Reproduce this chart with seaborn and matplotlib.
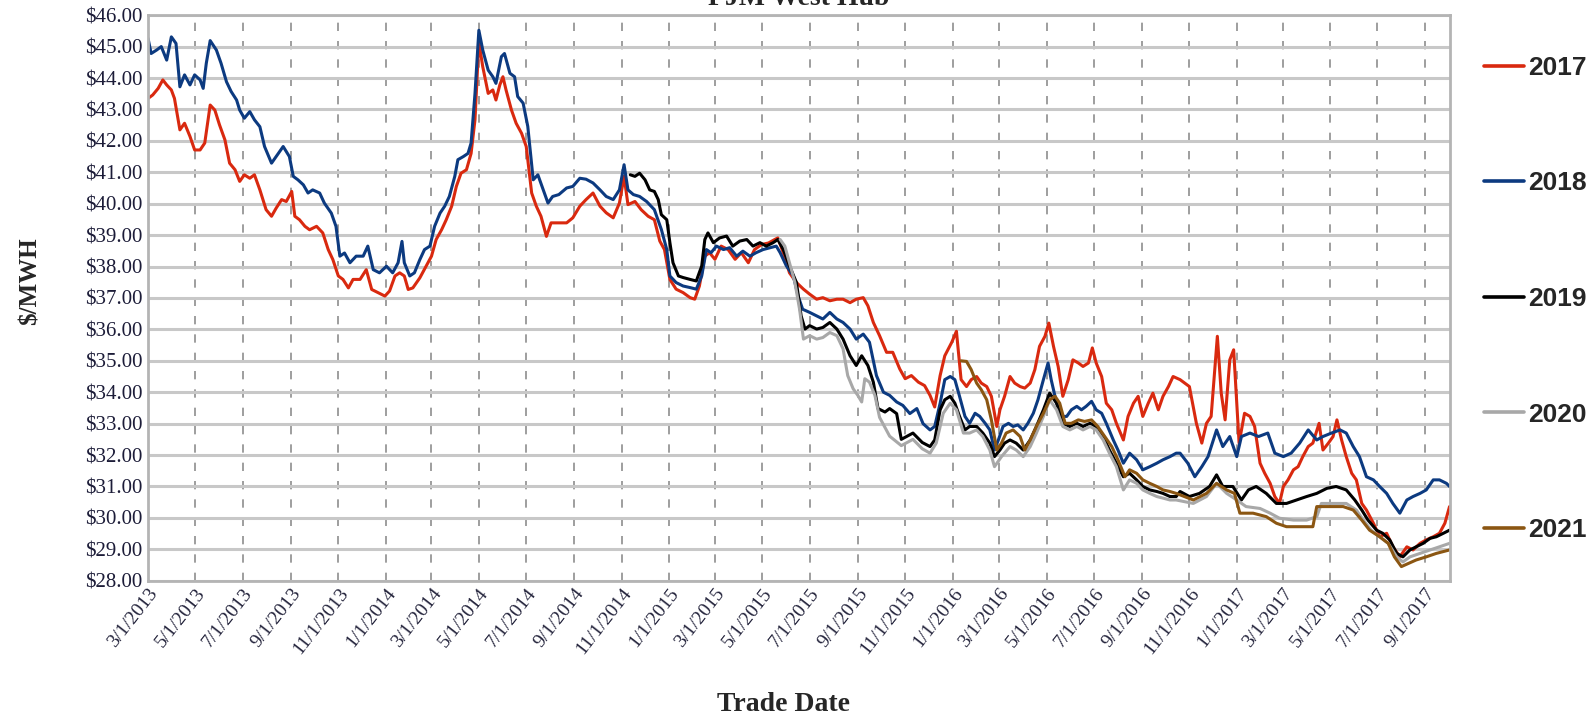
import numpy as np
import pandas as pd
import matplotlib
matplotlib.use('Agg')
import matplotlib.pyplot as plt
import seaborn as sns

# Forward price strips by calendar year
start = pd.Timestamp('2013-03-01')

days_2017 = [0, 6, 13, 19, 24, 30, 34, 41, 47, 54,
             60, 67, 73, 80, 86, 92, 99, 105, 112, 118,
             124, 131, 137, 144, 152, 159, 165, 172, 178, 185,
             189, 195, 202, 208, 217, 225, 232, 238, 245, 251,
             258, 264, 273, 281, 288, 296, 305, 311, 318, 324,
             330, 335, 341, 350, 358, 365, 371, 378, 384, 391,
             397, 403, 410, 416, 421, 426, 431, 438, 444, 448,
             453, 457, 461, 468, 474, 481, 487, 494, 500, 506,
             513, 519, 529,
             539, 547, 556, 564, 573, 582, 590, 599, 607, 613,
             618, 627, 635, 644, 652, 659, 665, 672, 680, 689,
             698, 704, 710, 717, 723, 730, 738, 747, 756, 764,
             773, 781, 790, 799, 807, 811, 818, 826, 835, 844,
             852, 861, 869, 878, 887, 895, 904, 912, 921, 927,
             934, 942, 951, 959, 968, 975, 983, 992, 1000, 1007,
             1013, 1020, 1026, 1035, 1041,
             1047, 1054, 1060, 1067, 1073, 1080, 1086, 1093, 1097, 1103,
             1110, 1116, 1123, 1129, 1136, 1142, 1148, 1155, 1160, 1166,
             1172, 1178, 1185, 1191, 1198, 1204, 1211, 1216, 1221, 1228,
             1234, 1241, 1247, 1256, 1262, 1269, 1275, 1281, 1288, 1294,
             1301, 1307, 1314, 1320, 1329,
             1341, 1350, 1357, 1363, 1369, 1377, 1382, 1387, 1393, 1398,
             1405, 1412, 1419, 1425, 1432, 1438, 1445, 1451, 1457, 1462,
             1468, 1475, 1481, 1487, 1494, 1500, 1508, 1513, 1520, 1526,
             1531, 1537, 1543, 1550, 1556, 1563, 1569, 1578, 1586, 1595,
             1603, 1612, 1621, 1629, 1638, 1646, 1655, 1663, 1670, 1676]
price_2017 = [43.35, 43.46, 43.67, 43.94, 43.78, 43.62, 43.35, 42.35, 42.56, 42.14,
              41.71, 41.71, 41.93, 43.14, 42.98, 42.51, 42.03, 41.29, 41.08, 40.71,
              40.92, 40.81, 40.92, 40.44, 39.81, 39.6, 39.86, 40.13, 40.07, 40.39,
              39.6, 39.49, 39.28, 39.17, 39.28, 39.07, 38.54, 38.22, 37.7, 37.59,
              37.32, 37.59, 37.59, 37.9, 37.27, 37.17, 37.06, 37.22, 37.7, 37.8,
              37.7, 37.27, 37.32, 37.64, 38.01, 38.33, 38.86, 39.17, 39.49, 39.92,
              40.55, 40.97, 41.08, 41.6, 42.67, 45.15, 44.36, 43.51, 43.62, 43.3,
              43.78, 44.04, 43.62, 42.98, 42.56, 42.24, 41.82, 40.34, 39.92, 39.6,
              38.96, 39.39, 39.39,
              39.39, 39.55, 39.92, 40.13, 40.34, 39.92, 39.71, 39.55, 40.02, 40.87,
              39.97, 40.07, 39.81, 39.6, 39.49, 38.81, 38.54, 37.59, 37.28, 37.17,
              37.01, 36.96, 37.38, 38.33, 38.44, 38.23, 38.65, 38.54, 38.23, 38.44,
              38.12, 38.54, 38.7, 38.75, 38.86, 38.91, 38.44, 37.8, 37.49, 37.28,
              37.12, 36.96, 37.01, 36.91, 36.96, 36.96, 36.85, 36.96, 37.01, 36.75,
              36.22, 35.8, 35.27, 35.27, 34.74, 34.43, 34.53, 34.32, 34.21, 33.9,
              33.53, 34.53, 35.16, 35.59, 35.94,
              34.4, 34.18, 34.4, 34.5, 34.29, 34.18, 33.87, 32.91, 33.44, 33.87,
              34.5, 34.29, 34.18, 34.13, 34.29, 34.72, 35.46, 35.78, 36.2, 35.46,
              34.82, 33.87, 34.4, 35.03, 34.93, 34.82, 34.93, 35.41, 34.93, 34.5,
              33.65, 33.44, 33.01, 32.48, 33.23, 33.65, 33.87, 33.23, 33.65, 33.97,
              33.44, 33.87, 34.18, 34.5, 34.4,
              34.18, 33.01, 32.38, 33.01, 33.23, 35.78, 33.97, 33.12, 35.03, 35.35,
              32.38, 33.33, 33.23, 32.91, 31.74, 31.42, 31.1, 30.68, 30.46, 31.0,
              31.21, 31.53, 31.63, 31.95, 32.27, 32.38, 33.01, 32.16, 32.38, 32.59,
              33.12, 32.48, 31.95, 31.42, 31.21, 30.46, 30.25, 29.83, 29.4, 29.51,
              29.08, 28.76, 29.08, 28.98, 29.19, 29.3, 29.4, 29.51, 29.83, 30.36]

days_2018 = [0, 4, 11, 17, 24, 30, 36, 41, 47, 54,
             60, 67, 71, 75, 80, 88, 94, 101, 107, 114,
             118, 124, 131, 137, 144, 150, 159, 165, 174, 182,
             187, 193, 200, 206, 212, 221, 227, 236, 242, 247,
             253, 260, 268, 277, 283, 290, 298, 307, 315, 322,
             327, 330, 337, 343, 350, 356, 363, 369, 376, 382,
             388, 395, 399, 406, 412, 416, 421, 426, 431, 438,
             444, 448, 455, 459, 466, 472, 476, 483, 489, 496,
             502, 509, 515, 521, 529,
             539, 547, 556, 564, 573, 582, 590, 599, 607, 613,
             618, 625, 633, 642, 652, 661, 668, 672, 680, 689,
             698, 706, 713, 719, 725, 732, 741, 749, 758, 766,
             775, 783, 792, 801, 809, 814, 822, 831, 837, 843,
             852, 861, 869, 878, 887, 895, 904, 912, 921, 929,
             938, 947, 955, 964, 972, 981, 990, 998,
             1007, 1013, 1020, 1026, 1033, 1039, 1045, 1052, 1058, 1065,
             1071, 1078, 1084, 1090, 1095, 1101, 1108, 1114, 1120, 1127,
             1133, 1140, 1146, 1153, 1159, 1163, 1170, 1176, 1183, 1189,
             1196, 1202, 1208, 1215, 1221, 1228, 1234, 1243, 1249, 1256,
             1264, 1273, 1281, 1290, 1299, 1307, 1316, 1324,
             1329, 1339, 1348, 1357, 1365, 1376, 1384, 1393, 1402, 1408,
             1419, 1430, 1442, 1451, 1462, 1472, 1483, 1494, 1505, 1513,
             1524, 1535, 1543, 1552, 1560, 1569, 1578, 1586, 1595, 1603,
             1612, 1621, 1629, 1638, 1646, 1655, 1663, 1672, 1676]
price_2018 = [45.26, 44.78, 44.89, 45.0, 44.57, 45.31, 45.1, 43.72, 44.1, 43.78,
              44.1, 43.94, 43.67, 44.47, 45.19, 44.89, 44.47, 43.88, 43.57, 43.3,
              42.98, 42.72, 42.93, 42.67, 42.45, 41.82, 41.29, 41.5, 41.82, 41.5,
              40.87, 40.76, 40.6, 40.34, 40.44, 40.34, 40.02, 39.7, 39.28, 38.33,
              38.43, 38.12, 38.33, 38.33, 38.65, 37.9, 37.8, 38.01, 37.8, 38.12,
              38.8, 38.12, 37.7, 37.8, 38.22, 38.54, 38.65, 39.28, 39.7, 39.92,
              40.23, 40.87, 41.4, 41.5, 41.6, 41.93, 43.5, 45.52, 44.89, 44.25,
              44.04, 43.83, 44.68, 44.78, 44.15, 44.04, 43.41, 43.2, 42.46, 40.76,
              40.92, 40.44, 40.02, 40.23, 40.29,
              40.5, 40.55, 40.81, 40.78, 40.66, 40.44, 40.23, 40.13, 40.44, 41.24,
              40.44, 40.29, 40.23, 40.07, 39.81, 39.18, 38.54, 37.7, 37.49, 37.38,
              37.33, 37.28, 37.7, 38.54, 38.44, 38.65, 38.54, 38.6, 38.33, 38.49,
              38.33, 38.44, 38.54, 38.6, 38.65, 38.44, 38.02, 37.7, 37.07, 36.64,
              36.54, 36.43, 36.33, 36.54, 36.33, 36.22, 36.01, 35.69, 35.85, 35.59,
              34.53, 34.0, 33.9, 33.69, 33.58, 33.32, 33.48, 33.0,
              32.8, 32.91, 33.65, 34.4, 34.5, 34.4, 33.87, 33.23, 33.01, 33.33,
              33.23, 33.01, 32.8, 32.16, 32.48, 32.91, 33.01, 32.91, 32.96, 32.8,
              33.01, 33.33, 33.76, 34.4, 34.93, 34.4, 33.65, 33.23, 33.23, 33.44,
              33.55, 33.44, 33.55, 33.71, 33.44, 33.33, 33.01, 32.48, 32.16, 31.74,
              32.06, 31.85, 31.53, 31.63, 31.74, 31.85, 31.95, 32.06,
              32.06, 31.74, 31.31, 31.63, 31.95, 32.8, 32.27, 32.59, 31.95, 32.59,
              32.7, 32.59, 32.7, 32.06, 31.95, 32.06, 32.38, 32.8, 32.48, 32.59,
              32.7, 32.8, 32.7, 32.27, 31.95, 31.31, 31.21, 31.0, 30.78, 30.46,
              30.15, 30.57, 30.68, 30.78, 30.89, 31.21, 31.21, 31.1, 31.0]

days_2019 = [621, 627, 633, 640, 646, 652, 657, 661, 668, 672,
             676, 683, 689, 698, 706, 713, 717, 721, 728, 736,
             745, 753, 762, 771, 779, 788, 796, 805, 811, 818,
             826, 835, 841, 846, 852, 861, 869, 878, 887, 895,
             904, 912, 919, 927, 934, 940, 949, 955, 964, 970,
             985, 997,
             1007, 1013, 1020, 1026, 1033, 1039, 1045, 1052, 1058, 1067,
             1075, 1084, 1090, 1097, 1103, 1110, 1118, 1127, 1136, 1144,
             1153, 1161, 1170, 1178, 1187, 1196, 1204, 1213, 1221, 1230,
             1238, 1247, 1256, 1264, 1273, 1281, 1290, 1299, 1307, 1316,
             1324,
             1329, 1341, 1354, 1367, 1376, 1384, 1397, 1408, 1417, 1427,
             1440, 1453, 1466, 1479, 1492, 1505, 1518, 1530, 1543, 1554,
             1563, 1571, 1582, 1590, 1599, 1608, 1616, 1625, 1633, 1642,
             1651, 1659, 1668, 1676]
price_2019 = [40.92, 40.87, 40.97, 40.76, 40.44, 40.39, 40.13, 39.65, 39.49, 38.76,
              38.12, 37.7, 37.65, 37.59, 37.54, 38.02, 38.86, 39.07, 38.76, 38.91,
              38.97, 38.65, 38.81, 38.86, 38.65, 38.76, 38.65, 38.76, 38.86, 38.54,
              38.02, 37.49, 36.43, 36.01, 36.12, 36.01, 36.06, 36.22, 36.01, 35.69,
              35.16, 34.85, 35.16, 34.85, 34.32, 33.48, 33.37, 33.48, 33.32, 32.5,
              32.7, 32.4,
              32.27, 32.48, 33.44, 33.76, 33.87, 33.65, 33.23, 32.8, 32.91, 32.91,
              32.7, 32.38, 31.95, 32.16, 32.38, 32.48, 32.38, 32.16, 32.48, 32.91,
              33.44, 33.97, 33.65, 33.01, 32.91, 33.01, 32.91, 33.01, 32.91, 32.59,
              32.16, 31.74, 31.31, 31.42, 31.21, 31.0, 30.89, 30.84, 30.78, 30.68,
              30.68,
              30.84, 30.68, 30.78, 31.0, 31.37, 31.0, 31.0, 30.57, 30.89, 31.0,
              30.78, 30.46, 30.46, 30.57, 30.68, 30.78, 30.94, 31.0, 30.89, 30.57,
              30.25, 29.93, 29.61, 29.51, 29.3, 28.87, 28.76, 28.98, 29.08, 29.19,
              29.35, 29.4, 29.51, 29.61]

days_2020 = [814, 820, 826, 833, 839, 844, 852, 861, 869, 878,
             887, 895, 901, 908, 914, 919, 923, 929, 936, 942,
             955, 970, 985, 997,
             1007, 1015, 1024, 1033, 1041, 1050, 1058, 1067, 1075, 1084,
             1090, 1099, 1110, 1118, 1127, 1136, 1144, 1153, 1161, 1170,
             1178, 1187, 1196, 1204, 1213, 1221, 1230, 1238, 1247, 1256,
             1264, 1273, 1281, 1290, 1299, 1307, 1316, 1324,
             1346, 1363, 1376, 1389, 1402, 1414, 1432, 1445, 1457, 1475,
             1492, 1505, 1511, 1526, 1543, 1556, 1565, 1575, 1586, 1597,
             1608, 1616, 1625, 1638, 1651, 1663, 1676]
price_2020 = [38.86, 38.65, 38.12, 37.49, 36.64, 35.69, 35.8, 35.69, 35.74, 35.9,
              35.8, 35.38, 34.53, 34.11, 33.9, 33.69, 34.43, 34.32, 33.9, 33.2,
              32.6, 32.3, 32.5, 32.2,
              32.06, 32.38, 33.33, 33.65, 33.44, 32.7, 32.7, 32.8, 32.59, 32.16,
              31.63, 31.95, 32.27, 32.16, 31.95, 32.27, 32.7, 33.23, 33.76, 33.44,
              32.91, 32.8, 32.91, 32.8, 32.91, 32.8, 32.48, 32.06, 31.63, 30.89,
              31.21, 31.1, 30.89, 30.78, 30.68, 30.63, 30.57, 30.57,
              30.46, 30.68, 31.1, 30.78, 30.57, 30.36, 30.3, 30.15, 29.99, 29.93,
              29.93, 30.04, 30.46, 30.46, 30.46, 30.25, 29.93, 29.61, 29.4, 29.19,
              28.76, 28.6, 28.76, 28.87, 28.98, 29.08, 29.19]

days_2021 = [1047, 1054, 1060, 1067, 1073, 1080, 1086, 1093, 1099, 1105,
             1114, 1123, 1129, 1136, 1144, 1153, 1161, 1168, 1174, 1181,
             1189, 1198, 1206, 1215, 1223, 1232, 1241, 1249, 1258, 1264,
             1273, 1281, 1290, 1299, 1307, 1316, 1324,
             1346, 1363, 1376, 1389, 1399, 1406, 1423, 1440, 1453, 1466,
             1483, 1500, 1505, 1522, 1539, 1552, 1563, 1573, 1586, 1597,
             1605, 1614, 1623, 1633, 1646, 1659, 1676]
price_2021 = [35.0, 34.98, 34.72, 34.29, 34.08, 33.76, 33.12, 32.16, 32.38, 32.7,
              32.8, 32.59, 32.16, 32.48, 32.91, 33.33, 33.76, 33.87, 33.65, 33.01,
              33.01, 33.12, 33.07, 33.12, 32.91, 32.59, 32.27, 31.85, 31.31, 31.53,
              31.42, 31.21, 31.1, 31.0, 30.89, 30.84, 30.78,
              30.57, 30.78, 31.1, 30.89, 30.78, 30.15, 30.15, 30.04, 29.83, 29.72,
              29.72, 29.72, 30.36, 30.36, 30.36, 30.25, 29.93, 29.61, 29.4, 29.19,
              28.76, 28.45, 28.55, 28.66, 28.76, 28.87, 28.98]

years = ['2017', '2018', '2019', '2020', '2021']
colors = ['#d9290f', '#0c3a80', '#000000', '#a8a8a8', '#8b5612']

tick_labels = ['3/1/2013', '5/1/2013', '7/1/2013', '9/1/2013', '11/1/2013',
               '1/1/2014', '3/1/2014', '5/1/2014', '7/1/2014', '9/1/2014', '11/1/2014',
               '1/1/2015', '3/1/2015', '5/1/2015', '7/1/2015', '9/1/2015', '11/1/2015',
               '1/1/2016', '3/1/2016', '5/1/2016', '7/1/2016', '9/1/2016', '11/1/2016',
               '1/1/2017', '3/1/2017', '5/1/2017', '7/1/2017', '9/1/2017']
y_ticks = list(range(28, 47))

# long table for seaborn
frames = []
all_days = [days_2017, days_2018, days_2019, days_2020, days_2021]
all_prices = [price_2017, price_2018, price_2019, price_2020, price_2021]
for yr, d, p in zip(years, all_days, all_prices):
    frames.append(pd.DataFrame({'date': start + pd.to_timedelta(d, unit='D'),
                                'price': p, 'year': yr}))
df = pd.concat(frames, ignore_index=True)

sns.set_style('white')
plt.rcParams['font.family'] = ['Liberation Serif', 'DejaVu Serif']

fig = plt.figure(figsize=(15.92, 7.19), dpi=100)
ax = fig.add_axes([0.093, 0.1923, 0.818, 0.7866])

sns.lineplot(data=df, x='date', y='price', hue='year', hue_order=years,
             palette=dict(zip(years, colors)), estimator=None, sort=True,
             linewidth=2.2, ax=ax)

ax.set_xlim(start, pd.Timestamp('2017-10-03'))
ax.set_ylim(28, 46)

ax.set_yticks(y_ticks)
ax.set_yticklabels([f'${v:.2f}' for v in y_ticks], fontsize=15, color='#1c1c38')
ax.set_xticks(pd.to_datetime(tick_labels, format='%m/%d/%Y'))
ax.set_xticklabels(tick_labels, rotation=52, ha='right', va='top',
                   rotation_mode='anchor', fontsize=14, color='#24243c')

ax.tick_params(axis='y', length=0, pad=4)
ax.tick_params(axis='x', length=6, width=1.2, color='#9a9a9a', pad=-3)

# grid: solid horizontal, dashed vertical
ax.set_axisbelow(True)
ax.yaxis.grid(True, color='#c8c8c8', linewidth=2.2)
ax.xaxis.grid(True, color='#8e8e8e', linewidth=1.2, linestyle=(0, (5, 6)))
for s in ax.spines.values():
    s.set_color('#b4b4b4')
    s.set_linewidth(2)

ax.set_xlabel('')
ax.set_ylabel('')
fig.text(0.502, 0.993, 'PJM West Hub', ha='center', va='baseline',
         fontsize=20, fontweight='bold')
fig.text(0.019, 0.609, '$/MWH', rotation=90, ha='center', va='center',
         fontsize=18, fontweight='bold')
fig.text(0.492, 0.02, 'Trade Date', ha='center', va='center',
         fontsize=20, fontweight='bold')

handles, labels = ax.get_legend_handles_labels()
leg = ax.legend(handles, labels, loc='upper left', bbox_to_anchor=(1.026, 0.928),
                frameon=False, labelspacing=3.47, handlelength=1.5,
                handletextpad=0.15, borderpad=0, borderaxespad=0,
                prop={'family': 'Liberation Sans', 'weight': 'bold', 'size': 19})
for h in leg.get_lines():
    h.set_linewidth(2.6)

fig.savefig('out.png', dpi=100)
